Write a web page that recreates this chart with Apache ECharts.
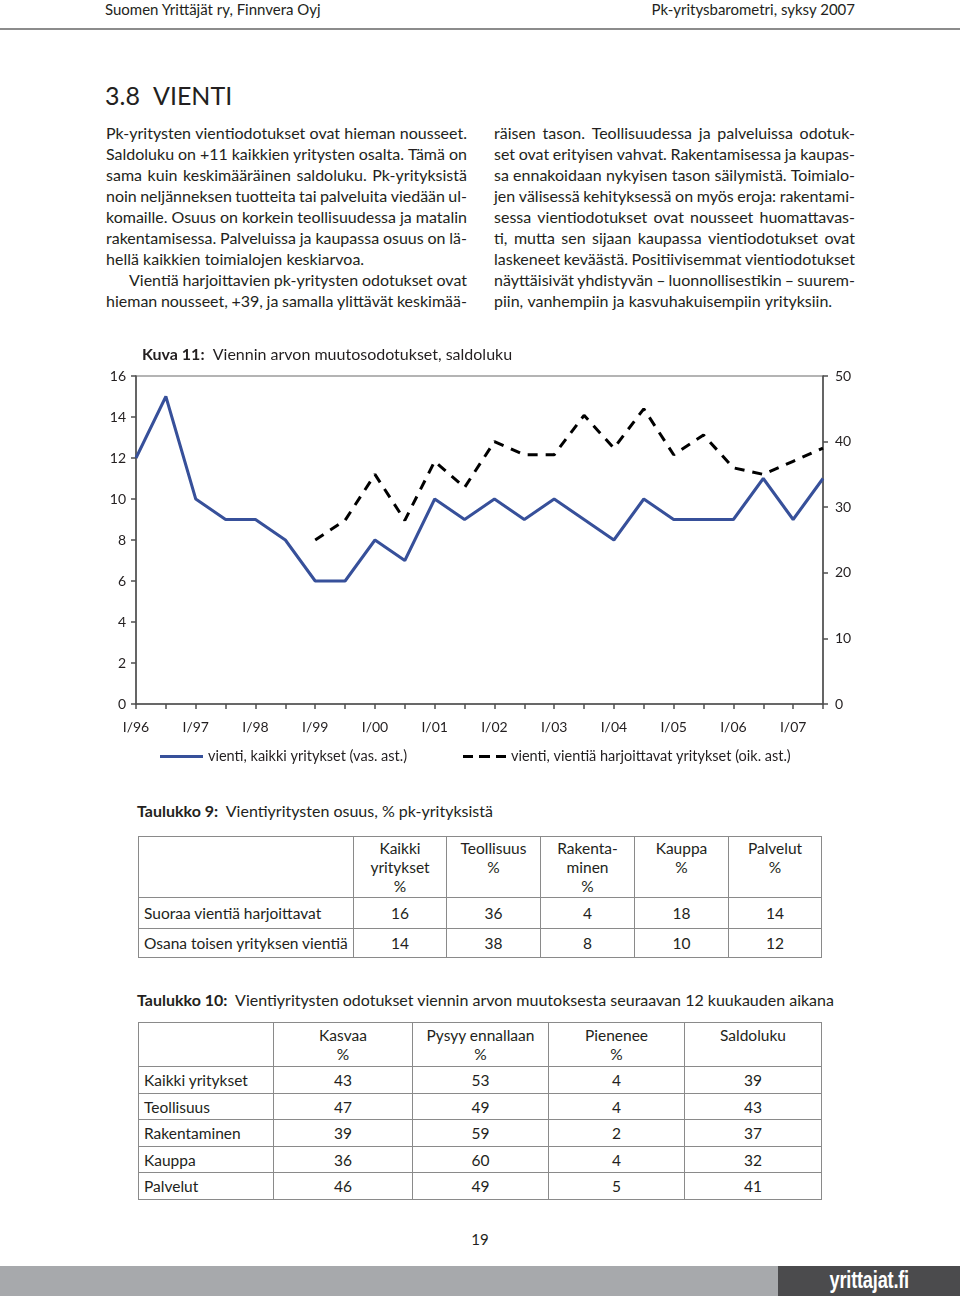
<!DOCTYPE html>
<html><head><meta charset="utf-8">
<script src="https://cdn.jsdelivr.net/npm/echarts@6/dist/echarts.min.js"></script>
<style>
html,body{margin:0;padding:0;background:#fff;}
body{width:960px;height:1296px;position:relative;overflow:hidden;font-family:Lato,'Noto Sans',sans-serif;color:#231f20;}
.abs{position:absolute;white-space:nowrap;}
.ln{position:absolute;height:21px;line-height:21px;font-size:16px;display:flex;justify-content:space-between;white-space:nowrap;}
.ln.last{justify-content:flex-start;}
.ln.last span{margin-right:4.2px;}
.cell{position:absolute;box-sizing:border-box;border-right:1.5px solid #8a8a8a;border-bottom:1.5px solid #8a8a8a;font-size:15.5px;}
.tbl{position:absolute;box-sizing:border-box;border-left:1.5px solid #8a8a8a;border-top:1.5px solid #8a8a8a;}
</style>
</head><body>
<div class="abs" style="left:105px;top:-1px;font-size:15px;line-height:20px;">Suomen Yrittäjät ry, Finnvera Oyj</div>
<div class="abs" style="right:105px;top:-1px;font-size:15px;line-height:20px;">Pk-yritysbarometri, syksy 2007</div>
<div class="abs" style="left:0;top:28px;width:960px;height:2px;background:#8c8c8c;"></div>
<div class="abs" style="left:105px;top:80px;font-size:25px;line-height:30px;">3.8</div>
<div class="abs" style="left:153px;top:80px;font-size:25px;line-height:30px;">VIENTI</div>
<div id="text"></div>
<div id="chart" style="position:absolute;left:0;top:330px;width:960px;height:460px;"></div>
<div class="abs" style="left:137px;top:800px;font-size:16px;line-height:22px;"><b>Taulukko 9:</b>&nbsp; Vientiyritysten osuus, % pk-yrityksistä</div>
<div id="t9"></div>
<div class="abs" style="left:137px;top:989px;font-size:16px;line-height:22px;"><b>Taulukko 10:</b>&nbsp; Vientiyritysten odotukset viennin arvon muutoksesta seuraavan 12 kuukauden aikana</div>
<div id="t10"></div>
<div class="abs" style="left:0;width:960px;top:1228px;text-align:center;font-size:15px;line-height:22px;">19</div>
<div class="abs" style="left:0;top:1266px;width:960px;height:30px;background:#a7a9ac;"></div>
<div class="abs" style="left:778px;top:1266px;width:182px;height:30px;background:#4b4b4d;"></div>
<div class="abs" style="left:778px;top:1266px;width:182px;height:30px;color:#fff;text-align:center;font-family:'Liberation Sans','DejaVu Sans',sans-serif;font-weight:bold;font-size:24px;line-height:28px;transform:scaleX(0.76);transform-origin:92px 0;letter-spacing:-0.3px;">yrittajat.fi</div>
<script>
// ---- chart data ----
const categories = ['I/96','II/96','I/97','II/97','I/98','II/98','I/99','II/99','I/00','II/00','I/01','II/01','I/02','II/02','I/03','II/03','I/04','II/04','I/05','II/05','I/06','II/06','I/07','II/07'];
const allFirms = [12,15,10,9,9,8,6,6,8,7,10,9,10,9,10,9,8,10,9,9,9,11,9,11];
const exporters = [null,null,null,null,null,null,25,28,35,28,37,33,40,38,38,44,39,45,38,41,36,35,37,39];
const seriesNames = ['vienti, kaikki yritykset (vas. ast.)','vienti, vientiä harjoittavat yritykset (oik. ast.)'];

// ---- table data ----
const t9Cols = ['Kaikki\nyritykset\n%','Teollisuus\n%','Rakenta-\nminen\n%','Kauppa\n%','Palvelut\n%'];
const t9Rows = ['Suoraa vientiä harjoittavat','Osana toisen yrityksen vientiä'];
const t9Direct = [16,36,4,18,14];
const t9Partial = [14,38,8,10,12];
const t10Cols = ['Kasvaa\n%','Pysyy ennallaan\n%','Pienenee\n%','Saldoluku'];
const t10Rows = ['Kaikki yritykset','Teollisuus','Rakentaminen','Kauppa','Palvelut'];
const t10All = [43,53,4,39];
const t10Ind = [47,49,4,43];
const t10Con = [39,59,2,37];
const t10Trade = [36,60,4,32];
const t10Serv = [46,49,5,41];

// ---- body text ----
const col1 = [
 ['Pk-yritysten vientiodotukset ovat hieman nousseet.',0,0],
 ['Saldoluku on +11 kaikkien yritysten osalta. Tämä on',0,0],
 ['sama kuin keskimääräinen saldoluku. Pk-yrityksistä',0,0],
 ['noin neljänneksen tuotteita tai palveluita viedään ul-',0,0],
 ['komaille. Osuus on korkein teollisuudessa ja matalin',0,0],
 ['rakentamisessa. Palveluissa ja kaupassa osuus on lä-',0,0],
 ['hellä kaikkien toimialojen keskiarvoa.',0,1],
 ['Vientiä harjoittavien pk-yritysten odotukset ovat',23,0],
 ['hieman nousseet, +39, ja samalla ylittävät keskimää-',0,0]
];
const col2 = [
 ['räisen tason. Teollisuudessa ja palveluissa odotuk-',0,0],
 ['set ovat erityisen vahvat. Rakentamisessa ja kaupas-',0,0],
 ['sa ennakoidaan nykyisen tason säilymistä. Toimialo-',0,0],
 ['jen välisessä kehityksessä on myös eroja: rakentami-',0,0],
 ['sessa vientiodotukset ovat nousseet huomattavas-',0,0],
 ['ti, mutta sen sijaan kaupassa vientiodotukset ovat',0,0],
 ['laskeneet keväästä. Positiivisemmat vientiodotukset',0,0],
 ['näyttäisivät yhdistyvän – luonnollisestikin – suurem-',0,0],
 ['piin, vanhempiin ja kasvuhakuisempiin yrityksiin.',0,1]
];
const textEl = document.getElementById('text');
function addCol(lines, x0){
  lines.forEach((l,i)=>{
    const d=document.createElement('div');
    d.className='ln'+(l[2]?' last':'');
    d.style.left=(x0+l[1])+'px';
    d.style.top=(121.5+21*i)+'px';
    d.style.width=(361-l[1])+'px';
    l[0].split(' ').forEach(w=>{const s=document.createElement('span');s.textContent=w;d.appendChild(s);});
    textEl.appendChild(d);
  });
}
addCol(col1,106); addCol(col2,494);

function buildTable(id, xs, ys, header, rowLabels, rows, headLH, headPad){
  const host=document.getElementById(id);
  const t=document.createElement('div');t.className='tbl';
  t.style.left=xs[0]+'px';t.style.top=ys[0]+'px';
  t.style.width=(xs[xs.length-1]-xs[0])+'px';t.style.height=(ys[ys.length-1]-ys[0])+'px';
  host.appendChild(t);
  for(let r=0;r<ys.length-1;r++){
    for(let c=0;c<xs.length-1;c++){
      const d=document.createElement('div');d.className='cell';
      d.style.left=xs[c]+'px';d.style.top=ys[r]+'px';
      d.style.width=(xs[c+1]-xs[c])+'px';d.style.height=(ys[r+1]-ys[r])+'px';
      if(r===0){
        if(c>0){d.style.textAlign='center';d.style.lineHeight=headLH+'px';d.style.paddingTop=headPad+'px';d.innerHTML=header[c-1].split('\n').join('<br>');}
      } else {
        d.style.display='flex';d.style.alignItems='center';
        if(c===0){d.style.paddingLeft='6px';d.textContent=rowLabels[r-1];}
        else {d.style.justifyContent='center';d.textContent=rows[r-1][c-1];}
      }
      host.appendChild(d);
    }
  }
}
buildTable('t9',[138,354,447,541,635,729,822],[836,898,929,958],t9Cols,t9Rows,[t9Direct,t9Partial],19,3);
buildTable('t10',[138,274,413,549,685,822],[1022,1067,1094,1120,1147,1173,1200],t10Cols,t10Rows,[t10All,t10Ind,t10Con,t10Trade,t10Serv],19,4);

// ---- chart ----
const axisCol='#505050';
const chart=echarts.init(document.getElementById('chart'),null,{renderer:'canvas'});
const legText={fontSize:14.5,color:'#231f20',fontFamily:'Lato'};
chart.setOption({
  animation:false,
  textStyle:{fontFamily:'Lato'},
  title:{left:137,top:12,text:'{b|Kuva 11:}  Viennin arvon muutosodotukset, saldoluku',
    textStyle:{fontSize:16,fontWeight:'normal',color:'#231f20',fontFamily:'Lato',rich:{b:{fontSize:16,fontWeight:'bold',color:'#231f20',fontFamily:'Lato'}}}},
  legend:[
    {left:160,top:419,padding:0,itemWidth:43,itemHeight:3,data:[{name:seriesNames[0],icon:'path://M0,0H43V3H0Z'}],
     itemStyle:{borderWidth:0},textStyle:legText},
    {left:463,top:419,padding:0,itemWidth:43,itemHeight:3,data:[{name:seriesNames[1],icon:'path://M0,0H10V3H0Z M16,0H27V3H16Z M33,0H43V3H33Z'}],
     itemStyle:{borderWidth:0},textStyle:legText}
  ],
  grid:{left:136,right:137,top:46,bottom:86,show:true,borderColor:'#6a6a6a',borderWidth:1.2,backgroundColor:'transparent'},
  xAxis:{type:'category',boundaryGap:false,data:categories,
    axisLine:{lineStyle:{color:axisCol,width:1.5}},
    axisTick:{interval:0,length:5,lineStyle:{color:axisCol,width:1.5}},
    axisLabel:{interval:1,margin:16,fontSize:14,color:'#231f20'}},
  yAxis:[
    {type:'value',min:0,max:16,interval:2,position:'left',
     axisLine:{show:true,lineStyle:{color:axisCol,width:1.5}},axisTick:{show:true,length:5,lineStyle:{color:axisCol,width:1.5}},
     splitLine:{show:false},axisLabel:{margin:10,fontSize:14,color:'#231f20'}},
    {type:'value',min:0,max:50,interval:10,position:'right',
     axisLine:{show:true,lineStyle:{color:axisCol,width:1.5}},axisTick:{show:true,length:5,lineStyle:{color:axisCol,width:1.5}},
     splitLine:{show:false},axisLabel:{margin:12,fontSize:14,color:'#231f20'}}
  ],
  series:[
    {name:seriesNames[0],type:'line',yAxisIndex:0,data:allFirms,symbol:'none',
     lineStyle:{color:'#37509a',width:3},itemStyle:{color:'#37509a'}},
    {name:seriesNames[1],type:'line',yAxisIndex:1,data:exporters,symbol:'none',
     lineStyle:{color:'#000',width:3,type:[10,8]},itemStyle:{color:'#000'}}
  ]
});
</script>
</body></html>
